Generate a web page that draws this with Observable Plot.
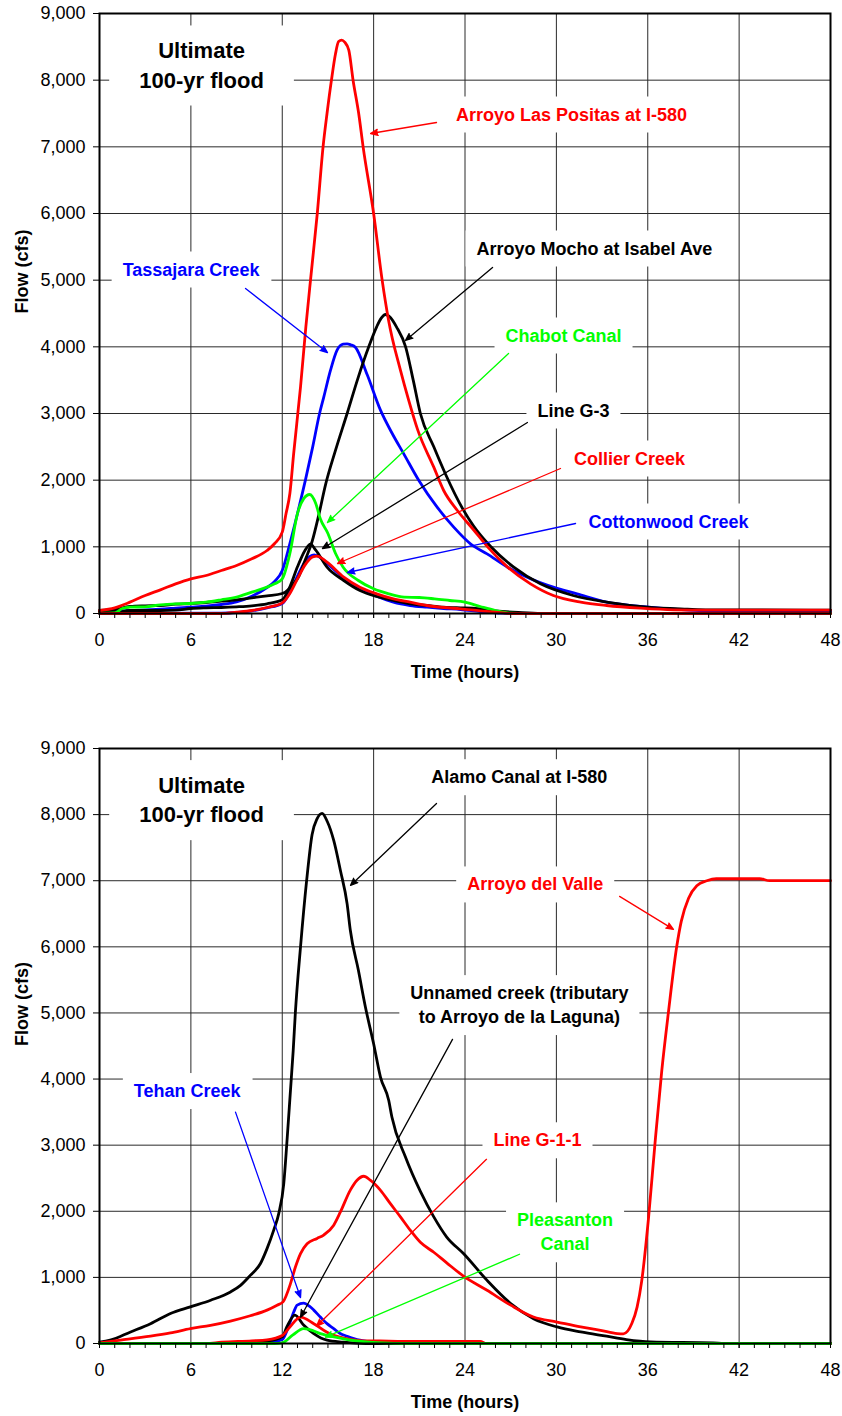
<!DOCTYPE html>
<html>
<head>
<meta charset="utf-8">
<script src="https://cdn.jsdelivr.net/npm/d3@7"></script>
<script src="https://cdn.jsdelivr.net/npm/@observablehq/plot@0.6"></script>
<style>
  html, body { margin: 0; padding: 0; background: #fff; }
  #page { position: relative; width: 842px; height: 1416px; background: #fff; overflow: hidden; }
  #page svg { position: absolute; left: 0; display: block; }
</style>
</head>
<body>
<div id="page"></div>
<script>
// ---------- axes ----------
const hourTicks = d3.range(0, 49);          // minor ticks, every hour
const hourLabels = d3.range(0, 49, 6);      // labelled ticks
const flowTicks = d3.range(0, 9001, 1000);  // cfs

// ---------- upper panel hydrographs: [hour, flow cfs] ----------
const arroyoLasPositas = [[0,45],[1,85],[2,170],[3,270],[4,355],[5,445],[6,520],[7,570],[8,645],[9,720],[10,820],[11,945],[11.5,1050],[12,1220],[12.25,1500],[12.5,1800],[12.75,2400],[13.2,3400],[13.55,4300],[13.9,5100],[14.3,6000],[14.68,7000],[14.94,7500],[15.23,8000],[15.5,8400],[15.7,8580],[15.9,8600],[16.1,8570],[16.37,8450],[16.65,8000],[17.02,7500],[17.31,7000],[18.0,6000],[18.56,5000],[18.98,4400],[19.76,3650],[20.3,3200],[20.9,2750],[21.95,2195],[22.6,1845],[23.5,1545],[24.6,1245],[25.5,995],[26.8,695],[28.3,445],[29.8,270],[31.6,170],[33.3,120],[35.5,80],[37.7,55],[40,50],[48,50]];
const tassajaraCreek = [[0,20],[1,30],[2,45],[3,55],[4,65],[5,80],[6,95],[7,110],[8,135],[9,175],[10,260],[11,390],[11.5,480],[12,645],[12.5,1050],[13,1500],[13.52,2000],[14,2500],[14.45,3000],[14.73,3250],[15.17,3650],[15.6,3950],[16.0,4040],[16.26,4045],[16.5,4030],[16.8,3995],[17.58,3580],[18.45,3050],[19.22,2700],[19.98,2395],[20.97,1995],[22.17,1595],[23.26,1295],[24.36,1045],[25.45,895],[26.8,695],[28.3,520],[29.8,395],[31.36,295],[33.3,170],[35.5,105],[37.7,65],[39.7,40],[41,30],[48,30]];
const arroyoMocho = [[0,45],[1,60],[2,105],[3,115],[4,120],[5,140],[6,150],[7,165],[8,185],[9,205],[10,235],[11,265],[12,300],[12.5,380],[12.76,450],[13.07,550],[13.5,800],[13.96,1080],[14.4,1480],[14.84,1930],[15.5,2450],[16.26,3000],[17.0,3550],[17.68,4000],[18.2,4300],[18.5,4430],[18.78,4485],[19.1,4440],[19.5,4300],[20.1,4000],[20.6,3500],[21.07,3000],[21.95,2500],[22.7,2100],[23.9,1550],[24.6,1300],[25.7,1000],[27.2,695],[28.95,445],[31.1,270],[33.3,170],[35.95,95],[38.6,65],[40,55],[48,50]];
const chabotCanal = [[0,5],[1,10],[1.5,75],[2,95],[3,100],[4,130],[5,145],[6,150],[7,170],[8,205],[9,245],[10,320],[11,395],[11.5,445],[12,520],[12.5,900],[13,1500],[13.4,1720],[13.8,1785],[14.2,1650],[14.5,1420],[15,1200],[15.5,900],[16,695],[17,495],[18,370],[19,295],[20,245],[21,240],[22,220],[23,195],[24,170],[25,105],[26,45],[27,5],[28,0],[48,0]];
const lineG3 = [[0,30],[1,15],[2,45],[3,45],[4,45],[5,50],[6,75],[7,85],[8,90],[9,100],[10,115],[11,145],[12,205],[12.5,400],[13,700],[13.5,950],[13.85,1040],[14.2,950],[14.94,695],[16.04,495],[17.1,345],[18.2,255],[19.3,195],[20.4,145],[21.5,120],[22.6,95],[23.7,85],[24.5,80],[26,40],[27.5,15],[29,0],[48,0]];
const collierCreek = [[0,0],[8,0],[9,20],[10,45],[11,90],[12,160],[12.5,300],[13,520],[13.5,730],[14,850],[14.29,860],[14.94,770],[16.04,545],[17.1,395],[18.2,295],[19.3,220],[20.4,170],[21.5,120],[22.6,90],[23.7,70],[25,40],[26.5,10],[27,0],[48,0]];
const cottonwoodCreek = [[0,0],[8,5],[9,15],[10,40],[11,85],[12,150],[12.5,320],[13,560],[13.5,780],[14.1,880],[14.5,840],[15,740],[16,540],[17.1,370],[18.2,260],[19.3,170],[20.4,120],[21.5,95],[22.6,75],[23.7,60],[25,30],[26.5,5],[27,0],[48,0]];

// ---------- lower panel hydrographs: [hour, flow cfs] ----------
const alamoCanal = [[0,20],[0.7,50],[2.04,175],[3.35,300],[4.66,455],[5.97,555],[7.3,655],[8.6,780],[9.26,880],[9.9,1030],[10.57,1210],[11.0,1435],[11.44,1715],[11.77,1965],[12.1,2420],[12.3,3025],[12.54,3830],[12.72,4435],[12.86,5000],[13.2,6000],[13.6,7000],[13.96,7700],[14.29,7940],[14.62,8020],[14.95,7900],[15.38,7610],[15.82,7155],[16.26,6650],[16.47,6250],[17.0,5645],[17.46,5090],[18.0,4535],[18.45,4030],[18.99,3680],[19.2,3425],[20.09,2820],[21.07,2300],[21.95,1915],[22.8,1610],[23.9,1360],[25.45,955],[27.0,605],[28.5,375],[30.05,250],[31.6,175],[33.3,110],[34.6,60],[36.2,25],[40.3,10],[41,0],[48,0]];
const arroyoDelValle = [[0,10],[1.38,50],[3.35,110],[4.66,160],[5.97,225],[7.29,275],[8.6,340],[9.9,420],[11.0,505],[11.66,580],[12.05,630],[12.54,905],[12.87,1160],[13.2,1360],[13.63,1510],[14.29,1590],[14.72,1640],[15.38,1790],[15.82,1990],[16.47,2320],[16.91,2470],[17.35,2530],[17.78,2470],[18.44,2320],[19.1,2115],[19.76,1915],[20.4,1715],[21.07,1530],[21.95,1380],[22.8,1220],[23.9,1020],[25.45,805],[27,580],[28.5,400],[30.05,325],[31.6,250],[32.9,200],[34.0,150],[34.4,145],[34.96,305],[35.3,550],[35.6,940],[36.05,1895],[36.48,3040],[36.92,4125],[37.36,5015],[37.9,6000],[38.2,6385],[38.68,6735],[39.22,6925],[39.88,7000],[40.5,7030],[43.35,7030],[44,7000],[48,7000]];
const unnamedCreek = [[0,0],[9.5,0],[10,20],[11,35],[12,100],[12.3,250],[12.83,430],[13.4,280],[14.07,150],[14.94,50],[16,20],[17.5,0],[48,0]];
const tehanCreek = [[0,0],[10,0],[11,10],[12,60],[12.4,250],[12.76,480],[12.98,580],[13.4,610],[13.8,560],[14.07,505],[14.5,400],[14.94,300],[15.38,225],[15.8,150],[16.26,110],[16.7,75],[17.1,50],[17.6,30],[18.5,0],[48,0]];
const lineG11 = [[0,0],[7,0],[8,20],[10,40],[11,55],[12,120],[12.5,250],[13.2,400],[14.07,300],[14.94,170],[16.04,80],[17.1,45],[18,40],[19,35],[21,30],[25,30],[25.4,0],[48,0]];
const pleasantonCanal = [[0,0],[11.5,0],[12,10],[12.7,130],[13.4,226],[13.8,210],[14.5,150],[15.4,100],[16.5,50],[17.7,20],[19,5],[20,0],[48,0]];

// ---------- colours by stream ----------
const RED = "#ff0000", BLUE = "#0000ff", GREEN = "#00ff00", BLACK = "#000000";
const streamColor = {
  lasPositas: RED, mocho: BLACK, tassajara: BLUE, chabot: GREEN, g3: BLACK, collier: RED, cottonwood: BLUE,
  alamo: BLACK, delValle: RED, unnamed: BLACK, tehan: BLUE, g11: RED, pleasanton: GREEN
};

// drawing order within each panel (later = on top)
const upperSeries = [
  {key: "tassajara", values: tassajaraCreek},
  {key: "cottonwood", values: cottonwoodCreek},
  {key: "mocho", values: arroyoMocho},
  {key: "g3", values: lineG3},
  {key: "chabot", values: chabotCanal},
  {key: "collier", values: collierCreek},
  {key: "lasPositas", values: arroyoLasPositas}
];
const lowerSeries = [
  {key: "alamo", values: alamoCanal},
  {key: "delValle", values: arroyoDelValle},
  {key: "tehan", values: tehanCreek},
  {key: "unnamed", values: unnamedCreek},
  {key: "g11", values: lineG11},
  {key: "pleasanton", values: pleasantonCanal}
];

// ---------- annotations (hours, cfs) ----------
const floodTitle = "Ultimate\n100-yr flood";
const upperLabels = [
  {key: "lasPositas", text: "Arroyo Las Positas at I-580", x: 30.99, y: 7395},
  {key: "mocho", text: "Arroyo Mocho at Isabel Ave", x: 32.5, y: 5385},
  {key: "tassajara", text: "Tassajara Creek", x: 6.01, y: 5070},
  {key: "chabot", text: "Chabot Canal", x: 30.47, y: 4080},
  {key: "g3", text: "Line G-3", x: 31.12, y: 2955},
  {key: "collier", text: "Collier Creek", x: 34.8, y: 2235},
  {key: "cottonwood", text: "Cottonwood Creek", x: 37.36, y: 1290}
];
const upperPointers = [
  {key: "lasPositas", x1: 22.13, y1: 7365, x2: 17.8, y2: 7200},
  {key: "mocho", x1: 25.81, y1: 5190, x2: 20.09, y2: 4095},
  {key: "tassajara", x1: 9.59, y1: 4875, x2: 14.97, y2: 3915},
  {key: "chabot", x1: 26.86, y1: 3900, x2: 14.97, y2: 1365},
  {key: "g3", x1: 28.1, y1: 2865, x2: 14.64, y2: 975},
  {key: "collier", x1: 30.27, y1: 2175, x2: 15.63, y2: 750},
  {key: "cottonwood", x1: 31.26, y1: 1350, x2: 16.28, y2: 615}
];
const lowerLabels = [
  {key: "alamo", text: "Alamo Canal at I-580", x: 27.56, y: 8475},
  {key: "delValle", text: "Arroyo del Valle", x: 28.61, y: 6853},
  {key: "unnamed", text: "Unnamed creek (tributary\nto Arroyo de la Laguna)", x: 27.57, y: 4847},
  {key: "tehan", text: "Tehan Creek", x: 5.76, y: 3728},
  {key: "g11", text: "Line G-1-1", x: 28.76, y: 2983},
  {key: "pleasanton", text: "Pleasanton\nCanal", x: 30.57, y: 1410}
];
const lowerPointers = [
  {key: "alamo", x1: 22.13, y1: 8169, x2: 16.48, y2: 6929},
  {key: "delValle", x1: 34.15, y1: 6763, x2: 37.69, y2: 6264},
  {key: "unnamed", x1: 23.18, y1: 4600, x2: 13.2, y2: 398},
  {key: "tehan", x1: 8.93, y1: 3500, x2: 13.2, y2: 695},
  {key: "g11", x1: 25.41, y1: 2786, x2: 14.25, y2: 262},
  {key: "pleasanton", x1: 27.58, y1: 1350, x2: 14.84, y2: 95}
];

const FONT = "'Liberation Sans', Arial, Helvetica, sans-serif";

function hydrographPanel({height, marginTop, marginBottom, series, labels, pointers, titleAt}) {
  return Plot.plot({
    width: 842,
    height,
    marginTop,
    marginBottom,
    marginLeft: 99,
    marginRight: 12,
    style: {fontFamily: FONT, fontSize: "18px", color: "#000", background: "transparent", overflow: "visible"},
    x: {domain: [0, 48]},
    y: {domain: [0, 9000]},
    color: {type: "identity"},
    marks: [
      // grid
      Plot.ruleX(hourLabels.filter((h) => h > 0 && h < 48), {stroke: "#2a2a2a", strokeWidth: 1}),
      Plot.ruleY(flowTicks.filter((v) => v > 0 && v < 9000), {stroke: "#2a2a2a", strokeWidth: 1}),
      // panel title and stream labels (white boxes are added after render)
      Plot.text([floodTitle], {
        x: titleAt[0], y: titleAt[1], text: (d) => d,
        fontSize: 22, fontWeight: "bold", lineAnchor: "bottom", lineHeight: 1.32,
        ariaDescription: "flood-title"
      }),
      Plot.text(labels, {
        x: "x", y: "y", text: "text", fill: (d) => streamColor[d.key],
        fontSize: 18, fontWeight: "bold", lineAnchor: "bottom", lineHeight: 1.33,
        ariaDescription: "stream-label"
      }),
      // hydrographs
      ...series.map((s) =>
        Plot.line(s.values, {
          x: (d) => d[0], y: (d) => d[1],
          stroke: streamColor[s.key], strokeWidth: 2.8, curve: "monotone-x"
        })
      ),
      // leader arrows
      Plot.arrow(pointers, {
        x1: "x1", y1: "y1", x2: "x2", y2: "y2",
        stroke: (d) => streamColor[d.key], strokeWidth: 1.3, headLength: 9, headAngle: 45,
        ariaDescription: "leader"
      }),
      Plot.frame({stroke: "#000", strokeWidth: 2}),
      Plot.axisY({ticks: flowTicks, tickSize: 6, tickPadding: 8, tickFormat: d3.format(","), label: null, fontSize: 18}),
      Plot.axisX({ticks: hourLabels, tickSize: 5, tickPadding: 15, tickFormat: (d) => String(d), label: null, fontSize: 18}),
      Plot.axisX({ticks: hourTicks, tickSize: 5, tickFormat: () => "", label: null}),
      Plot.text(["Time (hours)"], {frameAnchor: "bottom", dy: 64, lineAnchor: "bottom", fontWeight: "bold", fontSize: 18}),
      Plot.text(["Flow (cfs)"], {frameAnchor: "left", dx: -72, rotate: -90, lineAnchor: "bottom", fontWeight: "bold", fontSize: 18})
    ]
  });
}

// white background boxes behind the annotation text, and solid arrowheads
function finishAnnotations(svg) {
  const pads = {"flood-title": [30, 13], "stream-label": [11, 8]};
  for (const [name, [px, py]] of Object.entries(pads)) {
    svg.querySelectorAll(`g[aria-description="${name}"]`).forEach((g) => {
      const rects = [];
      g.querySelectorAll("text").forEach((t) => {
        const b = t.getBBox();
        const r = document.createElementNS("http://www.w3.org/2000/svg", "rect");
        r.setAttribute("x", b.x - px);
        r.setAttribute("y", b.y - py);
        r.setAttribute("width", b.width + 2 * px);
        r.setAttribute("height", b.height + 2 * py);
        r.setAttribute("fill", "#ffffff");
        r.setAttribute("stroke", "none");
        const tf = t.getAttribute("transform");
        if (tf) r.setAttribute("transform", tf);
        rects.push(r);
      });
      rects.reverse().forEach((r) => g.insertBefore(r, g.firstChild));
    });
  }
  // the head of each arrow is its own sub-path, so filling it makes a solid triangle
  svg.querySelectorAll(`g[aria-description="leader"] path`).forEach((p) => {
    const c = p.getAttribute("stroke");
    if (c) p.setAttribute("fill", c);
  });
}

const page = document.getElementById("page");

const upper = hydrographPanel({
  height: 700, marginTop: 13, marginBottom: 87,
  series: upperSeries, labels: upperLabels, pointers: upperPointers, titleAt: [6.7, 7890]
});
upper.style.top = "0px";
page.appendChild(upper);

const lower = hydrographPanel({
  height: 716, marginTop: 48, marginBottom: 73,
  series: lowerSeries, labels: lowerLabels, pointers: lowerPointers, titleAt: [6.7, 7886]
});
lower.style.top = "700px";
page.appendChild(lower);

finishAnnotations(upper);
finishAnnotations(lower);
</script>
</body>
</html>
